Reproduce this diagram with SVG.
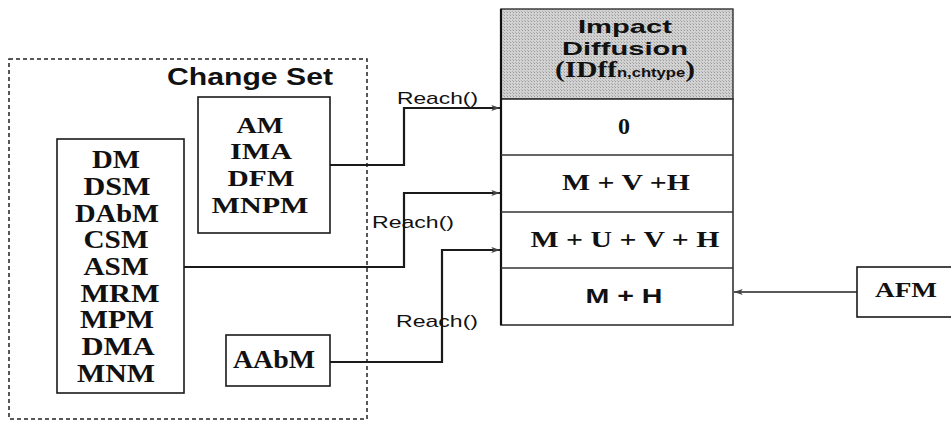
<svg xmlns="http://www.w3.org/2000/svg" width="951" height="421" viewBox="0 0 951 421">
<style>
  .box { fill: #fff; stroke: #1a1a1a; stroke-width: 1.6; }
  .tm { font-family: "Liberation Serif", "Times New Roman", serif; font-weight: bold; fill: #111; text-anchor: middle; }
  .sb { font-family: "Liberation Sans", Arial, sans-serif; font-weight: bold; fill: #111; text-anchor: middle; }
  .lbl { font-family: "Liberation Sans", Arial, sans-serif; font-size: 17px; fill: #111; }
  .conn { fill: none; stroke: #1a1a1a; stroke-width: 2.2; }
  .row { stroke: #333; stroke-width: 1.6; }
</style>
<defs>
  <marker id="arr" viewBox="0 0 10 8" refX="10" refY="4" markerWidth="9" markerHeight="7" markerUnits="userSpaceOnUse" orient="auto">
    <path d="M0,0.5 L10,4 L0,7.5 L2.5,4 Z" fill="#444"/>
  </marker>
  <pattern id="dots" width="3" height="3" patternUnits="userSpaceOnUse">
    <rect width="3" height="3" fill="#d2d2d2"/>
    <rect width="1" height="1" fill="#9a9a9a"/>
    <rect x="2" y="2" width="1" height="1" fill="#b0b0b0"/>
  </pattern>
</defs>

<g id="changeset">
  <rect x="9" y="59" width="358" height="360" fill="none" stroke="#222" stroke-width="1.5" stroke-dasharray="4,3"/>
  <text class="sb" x="250" y="85" font-size="23" textLength="166" lengthAdjust="spacingAndGlyphs">Change Set</text>
</g>

<g id="node-left">
  <rect class="box" x="57" y="139" width="127" height="254"/>
  <text class="tm" font-size="25" x="116" y="168" textLength="48" lengthAdjust="spacingAndGlyphs">DM</text>
  <text class="tm" font-size="25" x="117" y="195" textLength="67" lengthAdjust="spacingAndGlyphs">DSM</text>
  <text class="tm" font-size="25" x="117" y="222" textLength="84" lengthAdjust="spacingAndGlyphs">DAbM</text>
  <text class="tm" font-size="25" x="116" y="248" textLength="65" lengthAdjust="spacingAndGlyphs">CSM</text>
  <text class="tm" font-size="25" x="116" y="275" textLength="65" lengthAdjust="spacingAndGlyphs">ASM</text>
  <text class="tm" font-size="25" x="120" y="302" textLength="79" lengthAdjust="spacingAndGlyphs">MRM</text>
  <text class="tm" font-size="25" x="117" y="328" textLength="74" lengthAdjust="spacingAndGlyphs">MPM</text>
  <text class="tm" font-size="25" x="118" y="355" textLength="73" lengthAdjust="spacingAndGlyphs">DMA</text>
  <text class="tm" font-size="25" x="116" y="382" textLength="78" lengthAdjust="spacingAndGlyphs">MNM</text>
</g>

<g id="node-am">
  <rect class="box" x="198" y="97" width="132" height="136"/>
  <text class="tm" font-size="24" x="260" y="133" textLength="47" lengthAdjust="spacingAndGlyphs">AM</text>
  <text class="tm" font-size="24" x="261" y="159" textLength="62" lengthAdjust="spacingAndGlyphs">IMA</text>
  <text class="tm" font-size="24" x="261" y="186" textLength="67" lengthAdjust="spacingAndGlyphs">DFM</text>
  <text class="tm" font-size="24" x="260" y="213" textLength="97" lengthAdjust="spacingAndGlyphs">MNPM</text>
</g>

<g id="node-aabm">
  <rect class="box" x="226" y="335" width="104" height="51"/>
  <text class="tm" font-size="25" x="274" y="368" textLength="82" lengthAdjust="spacingAndGlyphs">AAbM</text>
</g>

<g id="node-impact">
  <rect x="501" y="9" width="232" height="90" fill="url(#dots)" stroke="#333" stroke-width="1.4"/>
  <rect x="501" y="99" width="232" height="226" fill="#fff" stroke="#333" stroke-width="1.6"/>
  <line x1="501" y1="9" x2="501" y2="325" stroke="#111" stroke-width="2.2"/>
  <line class="row" x1="501" y1="155" x2="733" y2="155"/>
  <line class="row" x1="501" y1="212" x2="733" y2="212"/>
  <line class="row" x1="501" y1="268" x2="733" y2="268"/>
  <text class="sb" font-size="19" x="625" y="33" textLength="94" lengthAdjust="spacingAndGlyphs">Impact</text>
  <text class="sb" font-size="19" x="625" y="55" textLength="126" lengthAdjust="spacingAndGlyphs">Diffusion</text>
  <text class="tm" x="625" y="77" textLength="140" lengthAdjust="spacingAndGlyphs"><tspan font-size="23">(IDff</tspan><tspan font-size="13" font-family="Liberation Sans, Arial, sans-serif">n,chtype</tspan><tspan font-size="23">)</tspan></text>
  <text class="tm" font-size="24" x="624" y="134" textLength="12" lengthAdjust="spacingAndGlyphs">0</text>
  <text class="tm" font-size="24" x="626" y="190" textLength="128" lengthAdjust="spacingAndGlyphs">M + V +H</text>
  <text class="tm" font-size="24" x="625" y="247" textLength="189" lengthAdjust="spacingAndGlyphs">M + U + V + H</text>
  <text class="sb" font-size="21" x="624" y="303" textLength="77" lengthAdjust="spacingAndGlyphs">M + H</text>
</g>

<g id="node-afm">
  <rect class="box" x="857" y="267" width="110" height="50"/>
  <text class="tm" font-size="20" x="906" y="297" textLength="62" lengthAdjust="spacingAndGlyphs">AFM</text>
</g>

<g id="connectors">
  <path class="conn" d="M330,165 H404 V108 H500" marker-end="url(#arr)"/>
  <path class="conn" d="M184,267 H404 V193 H500" marker-end="url(#arr)"/>
  <path class="conn" d="M330,362 H442 V250 H500" marker-end="url(#arr)"/>
  <path fill="none" stroke="#222" stroke-width="1.5" d="M857,292 H734" marker-end="url(#arr)"/>
  <text class="lbl" x="397" y="104" textLength="81" lengthAdjust="spacingAndGlyphs">Reach()</text>
  <text class="lbl" x="372" y="228" textLength="82" lengthAdjust="spacingAndGlyphs">Reach()</text>
  <text class="lbl" x="396" y="327" textLength="82" lengthAdjust="spacingAndGlyphs">Reach()</text>
</g>
</svg>
